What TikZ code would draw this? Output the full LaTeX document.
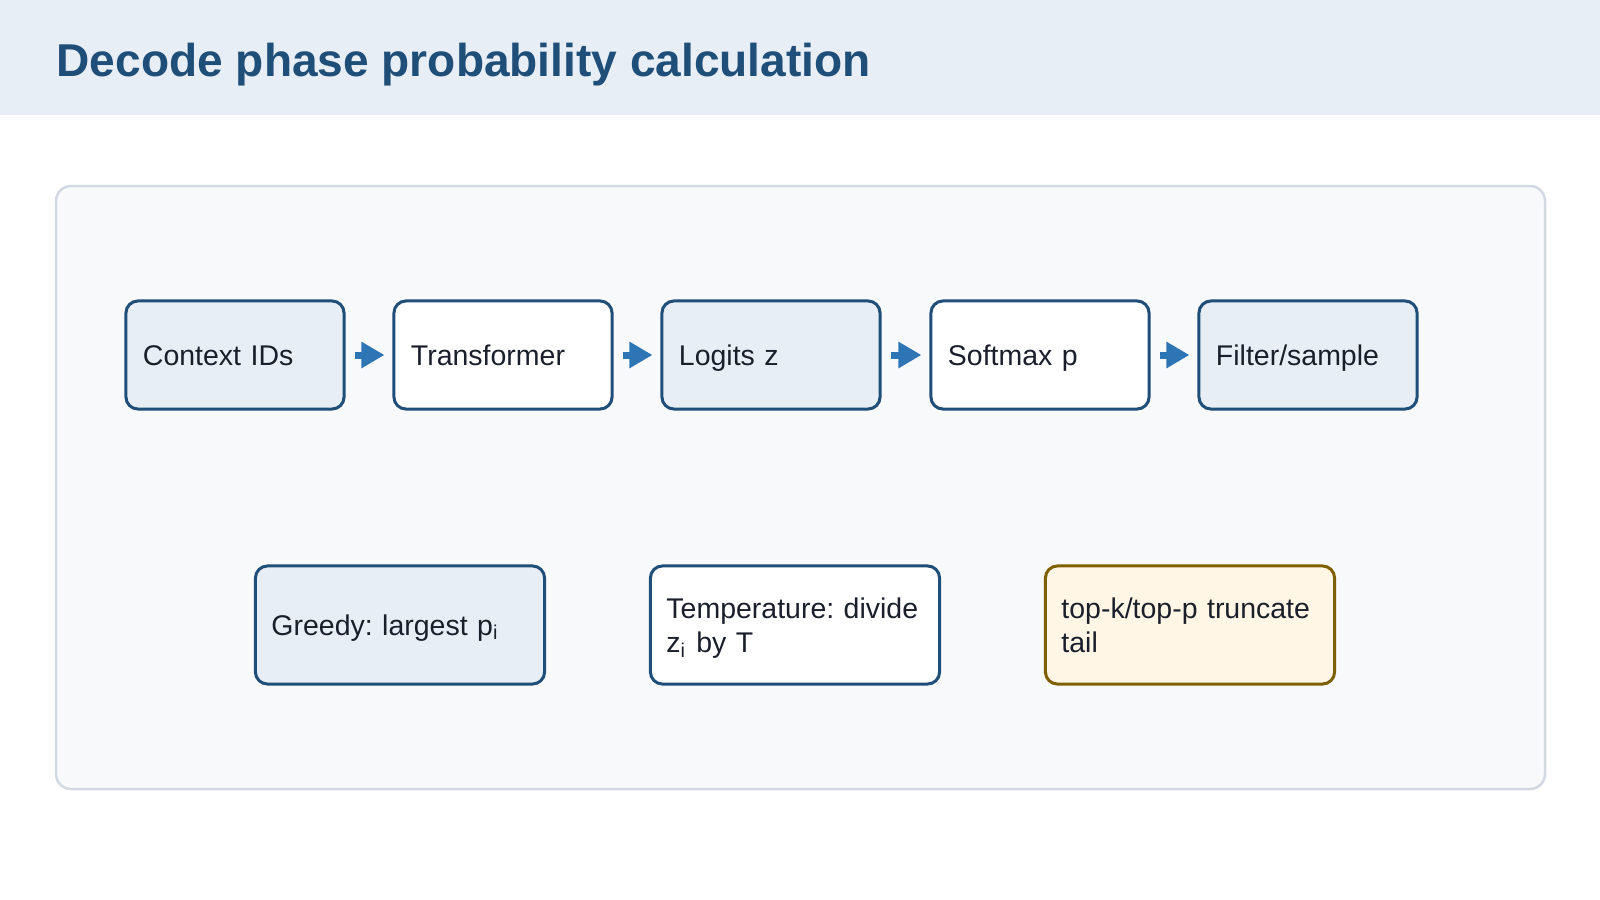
\documentclass[tikz,border=0pt]{standalone}
\usepackage{fontspec}
\setmainfont{Liberation Sans}
\usepackage{tikz, xcolor}
\usetikzlibrary{shapes,arrows,arrows.meta}

\definecolor{bandfill}{HTML}{E7EEF6}
\definecolor{titlecol}{HTML}{1F4E79}
\definecolor{panelfill}{HTML}{F8F9FB}
\definecolor{panelline}{HTML}{D3D9E3}
\definecolor{boxline}{HTML}{1F4E79}
\definecolor{boxfill}{HTML}{E8EEF6}
\definecolor{arrowcol}{HTML}{2E75B6}
\definecolor{warnfill}{HTML}{FFF6E6}
\definecolor{warnline}{HTML}{7F6000}
\definecolor{textcol}{HTML}{1A1F2B}

\newcommand{\boxstrut}{\rule[-1.95pt]{0pt}{9.7pt}}

\begin{document}
\begin{tikzpicture}[x=0.01cm, y=-0.01cm]
\tikzstyle{vertexr}=[rectangle, rounded corners=0.12cm, draw=boxline, line width=0.03cm, fill=white, text=textcol, font=\fontsize{8.1}{9.7}\selectfont\frenchspacing, align=left, inner xsep=0.17cm, inner ysep=0pt, text width=1.84cm, minimum height=1.08cm, execute at begin node={\boxstrut}, execute at end node={\boxstrut}]
\tikzstyle{vertexl}=[vertexr, fill=boxfill]
\tikzstyle{vertexw}=[vertexr, inner xsep=0.16cm, text width=2.57cm, minimum height=1.18cm]
\tikzstyle{drawstyle}=[draw=arrowcol, line width=0.07cm, -{Triangle[length=0.23cm, width=0.25cm]}]

\useasboundingbox (0,0) rectangle (1600,900);
\fill[bandfill] (0,0) rectangle (1600,115);
\node[anchor=base west, inner sep=0pt, text=titlecol, font=\fontsize{13.1}{15}\selectfont\bfseries] (title) at (56,77) {Decode phase probability calculation};
\draw[panelline, fill=panelfill, line width=0.025cm, rounded corners=0.15cm] (56,186) rectangle (1545,789);

\node[vertexl] (G0x0) at (235,355) {Context IDs};
\node[vertexr] (G1x0) at (503,355) {Transformer};
\node[vertexl] (G2x0) at (771,355) {Logits z};
\node[vertexr] (G3x0) at (1040,355) {Softmax p};
\node[vertexl] (G4x0) at (1308,355) {Filter/sample};
\draw[drawstyle] ([xshift=0.09cm]G0x0.east) -- ([xshift=-0.08cm]G1x0.west);
\draw[drawstyle] ([xshift=0.09cm]G1x0.east) -- ([xshift=-0.08cm]G2x0.west);
\draw[drawstyle] ([xshift=0.09cm]G2x0.east) -- ([xshift=-0.08cm]G3x0.west);
\draw[drawstyle] ([xshift=0.09cm]G3x0.east) -- ([xshift=-0.08cm]G4x0.west);

\node[vertexw, fill=boxfill] (G0x1) at (400,625) {Greedy: largest p\textsubscript{i}};
\node[vertexw] (G1x1) at (795,625) {Temperature: divide\\z\textsubscript{i} by T};
\node[vertexw, draw=warnline, fill=warnfill] (G2x1) at (1190,625) {top-k/top-p truncate\\tail};
\end{tikzpicture}
\end{document}
